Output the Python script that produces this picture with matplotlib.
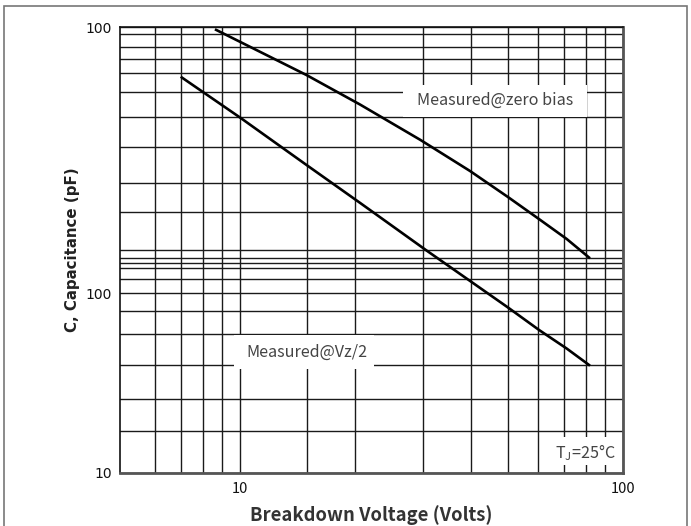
import numpy as np
import matplotlib
matplotlib.use("Agg")
import matplotlib.pyplot as plt
from matplotlib.patches import Rectangle
from matplotlib.ticker import FixedLocator, NullFormatter

# data (Volts, pF)
vz_zero = [8.6, 14.9, 20.6, 29.6, 39.9, 50.1, 60.4, 71.3, 82.0]
c_zero = [983, 662, 512, 377, 288, 230, 190, 160, 135.4]
vz_half = [7.0, 10.0, 14.9, 20.6, 30.7, 39.9, 50.1, 60.4, 71.3, 82.0]
c_half = [652, 458, 304, 218.5, 144.8, 111.2, 83.3, 62.4, 49.2, 39.5]

x_ticks = [10, 100]
x_ticklabels = ["10", "100"]
y_ticks = [10, 100, 1000]
y_ticklabels = ["10", "100", "100"]  # as printed on the original sheet
x_grid = [6, 7, 8, 9, 15, 20, 30, 40, 50, 60, 70, 80, 90]
y_grid = [17.1, 25.6, 39.8, 59.3, 79.7, 113, 124, 130, 135.4, 146,
          202, 260, 356, 461, 570, 671, 758, 845, 941]

# upper decade is drawn taller than the lower one on the sheet
K = 266 / 179.4


def fwd(y):
    l = np.log10(np.clip(np.asarray(y, float), 1e-9, None))
    return np.where(l <= 2, l - 1, 1 + (l - 2) * K)


def inv(u):
    u = np.asarray(u, float)
    return np.where(u <= 1, 10 ** (u + 1), 10 ** (2 + (u - 1) / K))


fig = plt.figure(figsize=(6.91, 5.26), dpi=100)
fig.patches.append(Rectangle((3.5 / 691, -0.1), 683.5 / 691, 1.1 - 6.5 / 526,
                             transform=fig.transFigure, fill=False,
                             edgecolor="#777777", lw=1.2))
ax = fig.add_axes([120 / 691, 53.3 / 526, 503 / 691, 445.4 / 526])

ax.set_xscale("log")
ax.set_yscale("function", functions=(fwd, inv))
ax.set_xlim(4.86, 100)
ax.set_ylim(10, 1000)

ax.xaxis.set_major_locator(FixedLocator(x_ticks))
ax.xaxis.set_minor_locator(FixedLocator(x_grid))
ax.yaxis.set_major_locator(FixedLocator(y_ticks))
ax.yaxis.set_minor_locator(FixedLocator(y_grid))
ax.set_xticklabels(x_ticklabels)
ax.set_yticklabels(y_ticklabels)
ax.xaxis.set_minor_formatter(NullFormatter())
ax.yaxis.set_minor_formatter(NullFormatter())
ax.tick_params(which="both", length=0)
ax.tick_params(axis="y", pad=6, labelsize=10, labelcolor="#111111")
ax.tick_params(axis="x", pad=7, labelsize=10.5, labelcolor="#111111")
for lab in ax.get_xticklabels():
    lab.set_fontfamily("Noto Sans CJK SC")
ax.grid(True, which="both", color="#1a1a1a", lw=1.0)
ax.set_axisbelow(True)

for s in ["left", "top"]:
    ax.spines[s].set_linewidth(1.2)
    ax.spines[s].set_color("#111111")
for s in ["bottom", "right"]:
    ax.spines[s].set_linewidth(2.0)
    ax.spines[s].set_color("#555555")

ax.plot(vz_zero, c_zero, color="black", lw=1.9, solid_capstyle="butt", zorder=5)
ax.plot(vz_half, c_half, color="black", lw=1.9, solid_capstyle="butt", zorder=5)

# white label boxes that cut the grid
boxes = [(0.5626, 0.7986, 0.3658, 0.0718),
         (0.2266, 0.2328, 0.2783, 0.0763),
         (0.861, 0.0173, 0.127, 0.0629)]
for x0, y0, w, h in boxes:
    ax.add_patch(Rectangle((x0, y0), w, h, transform=ax.transAxes,
                           facecolor="white", edgecolor="none", zorder=3))

tfont = dict(family="Noto Sans CJK SC", fontsize=11.6, color="#444444",
             ha="center", va="center", transform=ax.transAxes, zorder=6)
ax.text(0.7455, 0.8368, "Measured@zero bias", **tfont)
ax.text(0.3718, 0.271, "Measured@Vz/2", **tfont)
ax.text(0.9245, 0.0442, r"T$_\mathregular{J}$=25°C", **tfont)

ax.set_xlabel("Breakdown Voltage (Volts)", family="Noto Sans CJK SC",
              fontweight="bold", fontsize=13.3, color="#333333", labelpad=6)
ax.set_ylabel("C, Capacitance (pF)", fontweight="bold", fontsize=10.8,
              color="#222222", labelpad=4)

fig.savefig("out.png", dpi=100)
